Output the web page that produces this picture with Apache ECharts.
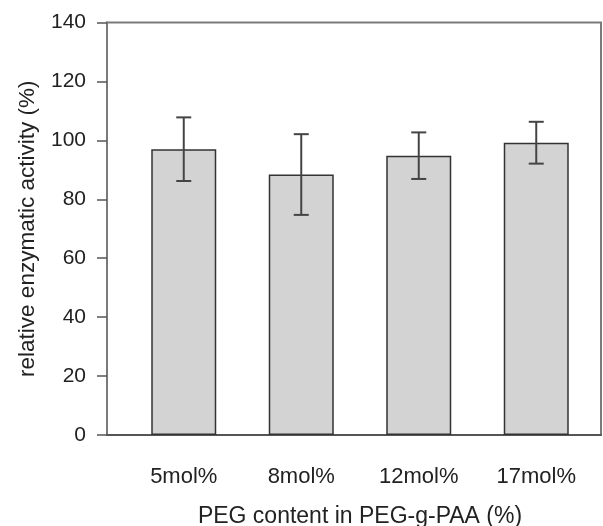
<!DOCTYPE html>
<html>
<head>
<meta charset="utf-8">
<script src="https://cdn.jsdelivr.net/npm/echarts@6/dist/echarts.min.js"></script>
<style>
  html, body { margin: 0; padding: 0; background: #fff; }
  #chart { width: 603px; height: 526px; }
</style>
</head>
<body>
<div id="chart"></div>
<script>
// data
const categories = ['5mol%', '8mol%', '12mol%', '17mol%'];
const activity = [97.0, 88.4, 94.8, 99.2];
const errors = [10.8, 13.7, 7.9, 7.1];

const yMin = 0;
const yMax = 140;
const yStep = 20;

const errorData = activity.map((v, i) => [i, v - errors[i], v + errors[i]]);

const fontFamily = 'Liberation Sans, Arial, sans-serif';

const myChart = echarts.init(document.getElementById('chart'), null, { renderer: 'canvas' });

const option = {
  animation: false,
  backgroundColor: '#fff',
  textStyle: { fontFamily: fontFamily },
  grid: [
    // frame + y axis
    { left: 107, right: 2, top: 22.5, bottom: 91, show: true, borderColor: '#7a7a7a', borderWidth: 2, outerBoundsMode: 'none' },
    // bars
    { left: 125, right: 8, top: 22.5, bottom: 91, outerBoundsMode: 'none' }
  ],
  xAxis: [
    {
      gridIndex: 0,
      type: 'value',
      min: 0,
      max: 1,
      axisLine: { show: true, lineStyle: { color: '#555', width: 2 } },
      axisTick: { show: false },
      axisLabel: { show: false },
      splitLine: { show: false }
    },
    {
      gridIndex: 1,
      type: 'category',
      data: categories,
      axisLine: { show: false },
      axisTick: { show: false },
      axisLabel: { color: '#222', fontSize: 22, margin: 31 },
      name: 'PEG content in PEG-g-PAA (%)',
      nameLocation: 'middle',
      nameGap: 70,
      nameTextStyle: { color: '#222', fontSize: 23 }
    }
  ],
  yAxis: [
    {
      gridIndex: 0,
      type: 'value',
      min: yMin,
      max: yMax,
      interval: yStep,
      axisLine: { show: true, lineStyle: { color: '#7a7a7a', width: 2 } },
      axisTick: { show: true, inside: false, length: 10, lineStyle: { color: '#555', width: 1.5 } },
      axisLabel: { color: '#222', fontSize: 21, margin: 21 },
      splitLine: { show: false },
      name: 'relative enzymatic activity (%)',
      nameLocation: 'middle',
      nameGap: 68,
      nameTextStyle: { color: '#222', fontSize: 22.5 }
    },
    {
      gridIndex: 1,
      type: 'value',
      min: yMin,
      max: yMax,
      interval: yStep,
      show: false
    }
  ],
  series: [
    {
      type: 'bar',
      xAxisIndex: 1,
      yAxisIndex: 1,
      data: activity,
      barWidth: 65,
      itemStyle: { color: '#d3d3d3', borderColor: '#333', borderWidth: 1.5 },
      z: 2
    },
    {
      type: 'custom',
      xAxisIndex: 1,
      yAxisIndex: 1,
      data: errorData,
      z: 3,
      renderItem: (params, api) => {
        const x = api.value(0);
        const lo = api.coord([x, api.value(1)]);
        const hi = api.coord([x, api.value(2)]);
        const half = 7.5;
        const style = { stroke: '#444', lineWidth: 2 };
        return {
          type: 'group',
          children: [
            { type: 'line', shape: { x1: hi[0], y1: hi[1], x2: lo[0], y2: lo[1] }, style: style },
            { type: 'line', shape: { x1: hi[0] - half, y1: hi[1], x2: hi[0] + half, y2: hi[1] }, style: style },
            { type: 'line', shape: { x1: lo[0] - half, y1: lo[1], x2: lo[0] + half, y2: lo[1] }, style: style }
          ]
        };
      }
    }
  ]
};

myChart.setOption(option);
</script>
</body>
</html>
